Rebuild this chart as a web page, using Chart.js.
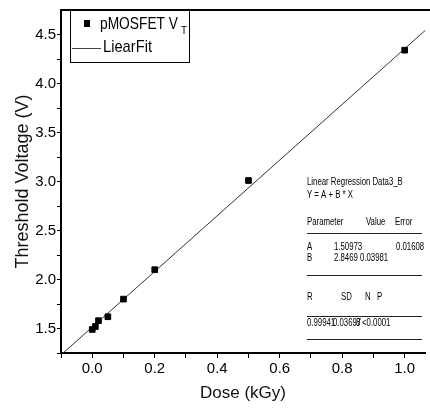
<!DOCTYPE html>
<html>
<head>
<meta charset="utf-8">
<script src="https://cdn.jsdelivr.net/npm/chart.js@4"></script>
<style>
  html, body { margin: 0; padding: 0; background: #fff; }
  #wrap { width: 430px; height: 408px; }
</style>
</head>
<body>
<div id="wrap"><canvas id="vtChart" width="430" height="408"></canvas></div>
<script>
// measured points
const doseKGy = [0, 0.01, 0.02, 0.05, 0.1, 0.2, 0.5, 1.0];
const thresholdV = [1.49, 1.52, 1.58, 1.62, 1.80, 2.10, 3.01, 4.34];
// fit line end points
const fitDose = [-0.1, 1.065];
const fitV = [1.23, 4.54];

const xTickValues = [-0.1, 0, 0.1, 0.2, 0.3, 0.4, 0.5, 0.6, 0.7, 0.8, 0.9, 1.0];
const xMajorLabels = { '0.0': '0.0', '0.2': '0.2', '0.4': '0.4', '0.6': '0.6', '0.8': '0.8', '1.0': '1.0' };
const yTickValues = [1.25, 1.5, 1.75, 2.0, 2.25, 2.5, 2.75, 3.0, 3.25, 3.5, 3.75, 4.0, 4.25, 4.5];
const yMajorLabels = { '1.5': '1.5', '2.0': '2.0', '2.5': '2.5', '3.0': '3.0', '3.5': '3.5', '4.0': '4.0', '4.5': '4.5' };

const seriesLabel = 'pMOSFET V';
const fitLabel = 'LiearFit';

// regression report lines: [text, x, y]
const reportText = [
    ['Linear Regression Data3_B', 307, 182],
    ['Y = A + B * X', 307, 195],
    ['Parameter', 307, 222],
    ['Value', 366, 222],
    ['Error', 395, 222],
    ['A', 307, 247],
    ['1.50973', 334, 247],
    ['0.01608', 396, 247],
    ['B', 307, 258],
    ['2.8469', 334, 258],
    ['0.03981', 360, 258],
    ['R', 307, 297],
    ['SD', 341, 297],
    ['N', 365, 297],
    ['P', 377, 297],
    ['0.99941', 307, 323],
    ['0.03697', 333, 323],
    ['8', 356, 323],
    ['<0.0001', 362, 323]
];
const reportRules = [233, 275, 316, 339];

const pts = doseKGy.map((d, i) => ({ x: d, y: thresholdV[i] }));
const fitPts = fitDose.map((d, i) => ({ x: d, y: fitV[i] }));

const decor = {
    id: 'decor',
    afterDraw(chart) {
        const c = chart.ctx;
        const a = chart.chartArea;
        c.save();
        // top frame
        c.strokeStyle = '#000';
        c.lineWidth = 2;
        c.beginPath();
        c.moveTo(a.left, a.top);
        c.lineTo(430, a.top);
        c.stroke();

        // legend box
        c.lineWidth = 1;
        c.fillStyle = '#fff';
        c.fillRect(70.5, 10.5, 119, 52);
        c.strokeRect(70.5, 10.5, 119, 52);
        c.fillStyle = '#000';
        c.fillRect(84, 20, 6, 7);
        c.textBaseline = 'middle';
        c.font = '17px "Liberation Sans", Arial, sans-serif';
        c.fillText(chart.data.datasets[0].label, 100, 24, 78);
        c.font = '10px "Liberation Sans", Arial, sans-serif';
        c.fillText('T', 181, 31, 6);
        c.strokeStyle = '#444';
        c.beginPath();
        c.moveTo(72, 48.5);
        c.lineTo(101, 48.5);
        c.stroke();
        c.font = '17px "Liberation Sans", Arial, sans-serif';
        c.fillText(chart.data.datasets[1].label, 103, 47, 49);

        // regression report, condensed
        c.font = '10px "Liberation Sans", Arial, sans-serif';
        reportText.forEach(t => {
            const w = c.measureText(t[0]).width * 0.78;
            c.fillText(t[0], t[1], t[2], w);
        });
        c.strokeStyle = '#222';
        reportRules.forEach(y => {
            c.beginPath();
            c.moveTo(307, y + 0.5);
            c.lineTo(422, y + 0.5);
            c.stroke();
        });
        c.restore();
    }
};

const tickFont = { family: '"Liberation Sans", Arial, sans-serif', size: 15 };

new Chart(document.getElementById('vtChart'), {
    type: 'scatter',
    data: {
        datasets: [{
            label: seriesLabel,
            data: pts,
            pointStyle: 'rect',
            pointRadius: 4,
            backgroundColor: '#000',
            borderColor: '#000',
            order: 1
        }, {
            type: 'line',
            label: fitLabel,
            data: fitPts,
            borderColor: '#333',
            borderWidth: 1,
            pointRadius: 0,
            order: 2
        }]
    },
    options: {
        responsive: false,
        animation: false,
        layout: { padding: { top: 5, right: 0, bottom: 0, left: 0 } },
        plugins: { legend: { display: false }, tooltip: { enabled: false } },
        scales: {
            x: {
                type: 'linear',
                min: -0.1,
                max: 1.065,
                afterBuildTicks: s => { s.ticks = xTickValues.map(v => ({ value: v })); },
                afterFit: s => { s.height = 55; },
                ticks: {
                    color: '#000',
                    font: tickFont,
                    padding: 2,
                    maxRotation: 0,
                    autoSkip: false,
                    callback: v => xMajorLabels[v.toFixed(1)] || ''
                },
                grid: { drawOnChartArea: false, tickLength: 5, color: '#000' },
                border: { color: '#000', width: 2 },
                title: {
                    display: true, text: 'Dose (kGy)', color: '#111',
                    font: { family: '"Liberation Sans", Arial, sans-serif', size: 17 },
                    padding: { top: 0, bottom: 4 }
                }
            },
            y: {
                min: 1.25,
                max: 4.75,
                afterBuildTicks: s => { s.ticks = yTickValues.map(v => ({ value: v })); },
                afterFit: s => { s.width = 61; },
                ticks: {
                    color: '#000',
                    font: tickFont,
                    padding: 1,
                    autoSkip: false,
                    callback: v => yMajorLabels[v.toFixed(1)] || ''
                },
                grid: { drawOnChartArea: false, tickLength: 4, color: '#000' },
                border: { color: '#000', width: 2 },
                title: {
                    display: true, text: 'Threshold Voltage (V)', color: '#111',
                    font: { family: '"Liberation Sans", Arial, sans-serif', size: 18 },
                    padding: { top: 12, bottom: 0 }
                }
            }
        }
    },
    plugins: [decor]
});
</script>
</body>
</html>
